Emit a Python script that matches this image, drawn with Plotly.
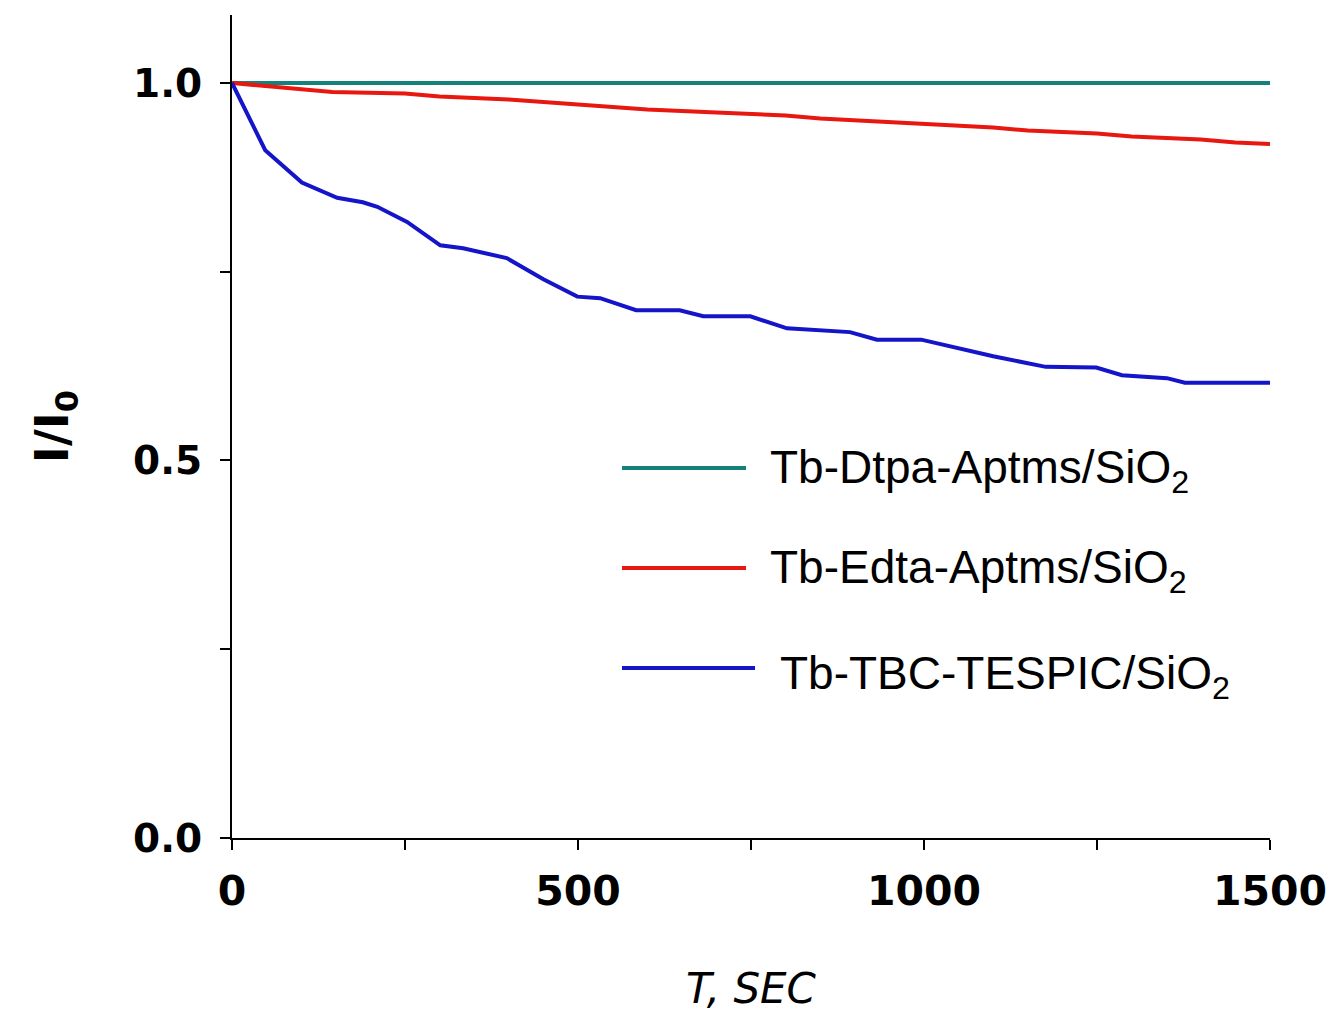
import plotly.graph_objects as go

# ---- data ----
t_dtpa = [0, 1500]
y_dtpa = [1.0, 1.0]

t_edta = [0, 95, 145, 250, 300, 400, 450, 550, 600, 700, 800, 850, 950, 1000,
          1100, 1150, 1250, 1300, 1400, 1450, 1500]
y_edta = [1.0, 0.993, 0.988, 0.986, 0.982, 0.978, 0.975, 0.969, 0.965, 0.961,
          0.957, 0.953, 0.948, 0.945, 0.941, 0.937, 0.933, 0.929, 0.925, 0.921, 0.919]

t_tbc = [0, 48, 101, 152, 189, 210, 253, 301, 334, 397, 450, 499, 532, 584, 647,
         681, 749, 802, 893, 932, 996, 1100, 1176, 1249, 1286, 1351, 1377, 1500]
y_tbc = [1.0, 0.911, 0.868, 0.848, 0.842, 0.836, 0.816, 0.785, 0.781, 0.768, 0.740,
         0.717, 0.715, 0.699, 0.699, 0.691, 0.691, 0.675, 0.670, 0.660, 0.660, 0.638,
         0.624, 0.623, 0.613, 0.609, 0.603, 0.603]

names = ["Tb-Dtpa-Aptms/SiO<sub>2</sub>", "Tb-Edta-Aptms/SiO<sub>2</sub>",
         "Tb-TBC-TESPIC/SiO<sub>2</sub>"]
colors = ["#14827a", "#e8170f", "#1414c8"]

x_tickvals = [0, 500, 1000, 1500]
x_ticktext = ["0", "500", "1000", "1500"]
y_tickvals = [0, 0.5, 1.0]
y_ticktext = ["0.0", "0.5", "1.0"]

fig = go.Figure()
for xs, ys, nm, c in zip([t_dtpa, t_edta, t_tbc], [y_dtpa, y_edta, y_tbc], names, colors):
    fig.add_trace(go.Scatter(x=xs, y=ys, mode="lines", name=nm,
                             line=dict(color=c, width=4), showlegend=False))

# custom legend (lines + labels)
leg_y = [0.4496, 0.328, 0.2066]
leg_x0 = [0.3757, 0.3757, 0.3757]
leg_x1 = [0.4952, 0.4952, 0.5039]
txt_x = [0.5164, 0.5164, 0.526]
txt_y = [0.447, 0.325, 0.196]
for i in range(3):
    fig.add_shape(type="line", xref="paper", yref="paper",
                  x0=leg_x0[i], x1=leg_x1[i], y0=leg_y[i], y1=leg_y[i],
                  line=dict(color=colors[i], width=4))
    fig.add_annotation(xref="paper", yref="paper", x=txt_x[i], y=txt_y[i],
                       text=names[i], showarrow=False, xanchor="left", yanchor="middle",
                       font=dict(family="Liberation Sans, Arial", size=46, color="black"))

fig.update_layout(
    width=1334, height=1013,
    margin=dict(l=232, r=64, t=15, b=175),
    plot_bgcolor="white", paper_bgcolor="white",
    xaxis=dict(range=[0, 1500], tickvals=x_tickvals, ticktext=x_ticktext,
               automargin=False,
               showgrid=False, zeroline=False, showline=True, linecolor="black",
               linewidth=2, ticks="outside", ticklen=10, tickwidth=1.5, tickcolor="black",
               minor=dict(dtick=250, tick0=0, ticks="outside", ticklen=10, tickwidth=1.5,
                          tickcolor="black", showgrid=False),
               ticklabelstandoff=6,
               tickfont=dict(family="DejaVu Sans", size=41, color="black", weight="bold"),
               title=dict(text="<i>T, SEC</i>", standoff=62,
                          font=dict(family="DejaVu Sans", size=42, color="black"))),
    yaxis=dict(range=[0, 1.09], tickvals=y_tickvals, ticktext=y_ticktext,
               automargin=False,
               showgrid=False, zeroline=False, showline=True, linecolor="black",
               linewidth=2, ticks="outside", ticklen=10, tickwidth=1.5, tickcolor="black",
               minor=dict(dtick=0.25, tick0=0, ticks="outside", ticklen=10, tickwidth=1.5,
                          tickcolor="black", showgrid=False),
               ticklabelstandoff=10,
               tickfont=dict(family="DejaVu Sans", size=39, color="black", weight="bold"),
               title=dict(text="<b>I/I<sub>0</sub></b>", standoff=50,
                          font=dict(family="DejaVu Sans", size=46, color="black"))),
)

fig.write_html("out.html")
